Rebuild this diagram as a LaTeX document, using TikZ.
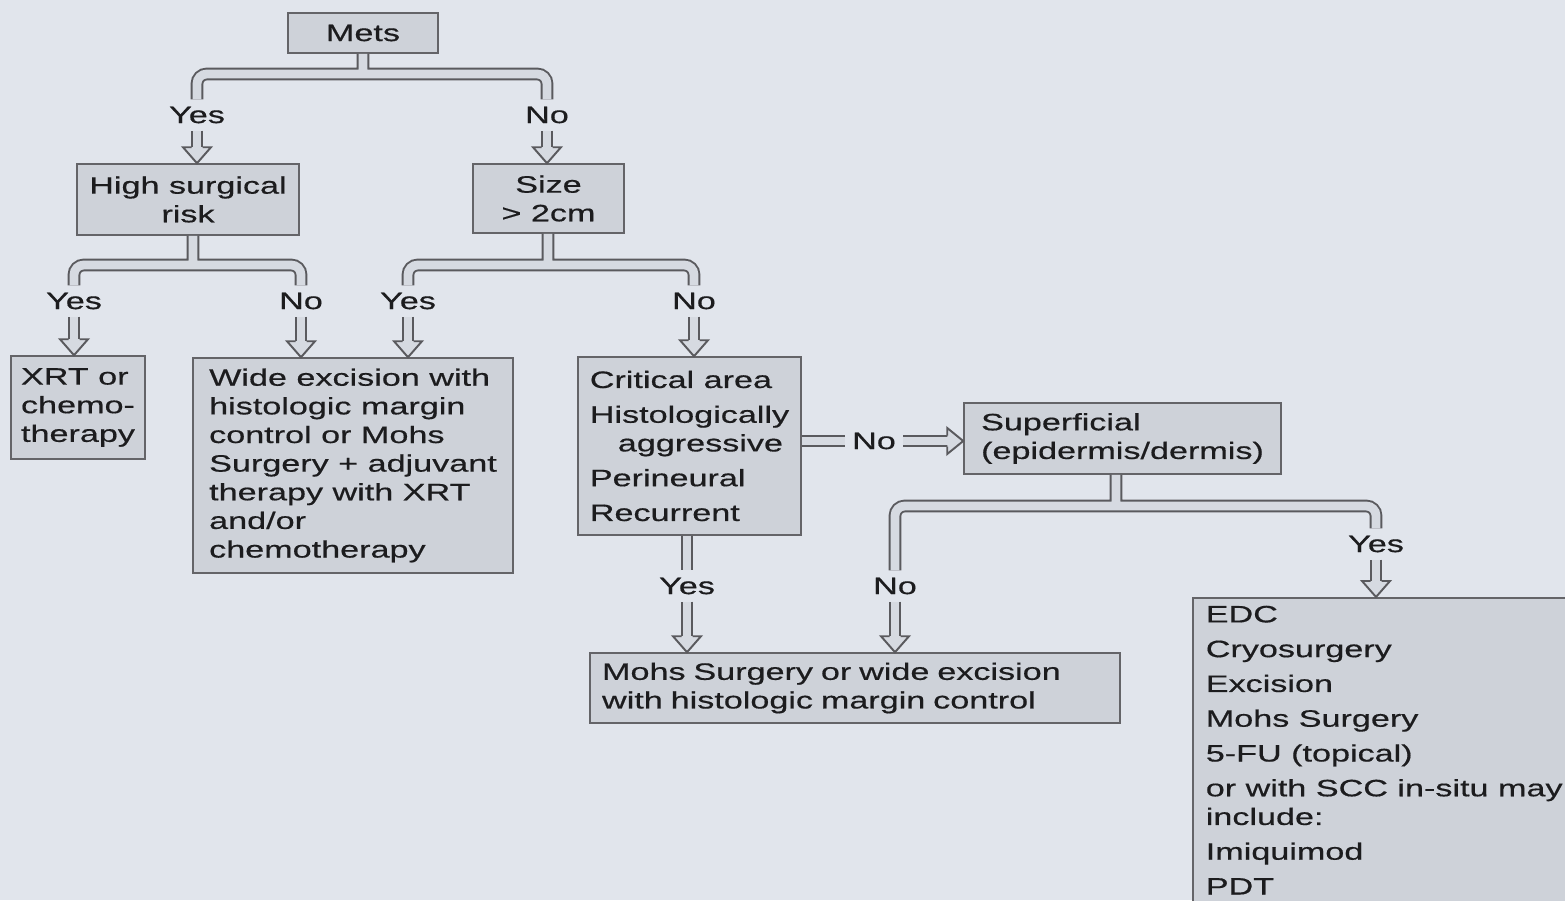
\documentclass[tikz,border=0pt]{standalone}
\usepackage{fontspec}
\setmainfont{Liberation Sans}[FakeStretch=1.44, FakeBold=0.5]
\usepackage{tikz}
\definecolor{bgcol}{RGB}{225,229,236}
\definecolor{boxfill}{RGB}{206,210,217}
\definecolor{boxedge}{RGB}{100,100,104}
\definecolor{tubefill}{RGB}{214,218,225}
\definecolor{tubeedge}{RGB}{90,90,94}
\definecolor{inkcol}{RGB}{28,28,30}
\tikzset{
	%Define style for boxes
	box/.style={
		draw=boxedge, fill=boxfill,
		line width=0.9pt,
		align=left,
		inner sep=0pt},
	%Define style for the Yes/No labels
	answer/.style={inner sep=4pt},
	% Define hollow connector style
	tube/.style={
		draw=tubeedge, line width=1.1pt,
		double=tubefill, double distance=5pt,
		rounded corners=5.5pt},
	tubeend/.style={tube, shorten >=8.5pt},
	% hollow arrow tips
	tip/.style={draw=tubeedge, fill=tubefill, line width=1.1pt},
	downtip/.pic={\filldraw[tip] (-5.5,-16) -- (-14,-16) -- (0,0) -- (14,-16) -- (5.5,-16);},
	righttip/.pic={\filldraw[tip] (-16,-5.5) -- (-16,-13) -- (0,0) -- (-16,13) -- (-16,5.5);}
}
\begin{document}
\begin{tikzpicture}[x=0.02cm, y=-0.02cm,
	every node/.style={text=inkcol, font=\fontsize{13.5}{16.3}\selectfont}]
		\useasboundingbox (0,0) rectangle (1565,900);
		\clip (0,0) rectangle (1565,900);
		\fill[bgcol] (0,0) rectangle (1565,900);
		%boxes
		\node[box, minimum width=3cm, minimum height=0.8cm] (mets) at (363,33) {Mets};
		\node[box, minimum width=4.44cm, minimum height=1.42cm, align=center] (hsr) at (188,199.5) {High surgical\\risk};
		\node[box, minimum width=3.02cm, minimum height=1.38cm, align=center] (size) at (548.5,198.5) {Size\\> 2cm};
		\node[box, minimum width=2.68cm, minimum height=2.06cm] (xrt) at (78,407.5) {XRT or\\chemo-\\therapy};
		\node[box, minimum width=6.4cm, minimum height=4.3cm] (wide) at (353,465.5)
		{Wide excision with\\histologic margin\\control or Mohs\\Surgery + adjuvant\\therapy with XRT\\and/or\\chemotherapy};
		\node[box, minimum width=4.46cm, minimum height=3.56cm] (crit) at (689.5,446)
		{Critical area\\[3.5pt]Histologically\\\hspace*{0.56cm}aggressive\\[3.5pt]Perineural\\[3.5pt]Recurrent};
		\node[box, minimum width=6.34cm, minimum height=1.42cm] (sup) at (1122.5,438.5) {Superficial\\(epidermis/dermis)};
		\node[box, minimum height=1.4cm, text width=10.12cm, inner xsep=0.24cm] (mohs) at (855,688)
		{Mohs Surgery or wide excision\\with histologic margin control};
		\node[box, anchor=north west, inner xsep=0.26cm, inner ysep=0.16cm] (edc) at (1192,597)
		{EDC\\[3.5pt]Cryosurgery\\[3.5pt]Excision\\[3.5pt]Mohs Surgery\\[3.5pt]5-FU (topical)\\[3.5pt]or with SCC in-situ may\\include:\\[3.5pt]Imiquimod\\[3.5pt]PDT};
		%labels
		\node[answer] (y1) at (197,115) {Yes};
		\node[answer] (n1) at (547,115) {No};
		\node[answer] (y2) at (74,301) {Yes};
		\node[answer] (n2) at (301,301) {No};
		\node[answer] (y3) at (408,301) {Yes};
		\node[answer] (n3) at (694,301) {No};
		\node[answer] (n4) at (874,441) {No};
		\node[answer] (y4) at (687,586) {Yes};
		\node[answer] (n5) at (895,586) {No};
		\node[answer] (y5) at (1376,544) {Yes};
		% branching points
		\coordinate (j1) at (363,74);
		\coordinate (j2) at (193,265);
		\coordinate (j3) at (548,265);
		\coordinate (j4) at (1116,506);
		% Mets
		\draw[tube] (mets.south) -- (j1) (y1.north) |- (j1) -| (n1.north);
		\draw[tubeend] (y1.south) -- (y1.south |- hsr.north);
		\pic at (y1.south |- hsr.north) {downtip};
		\draw[tubeend] (n1.south) -- (n1.south |- size.north);
		\pic at (n1.south |- size.north) {downtip};
		% High surgical risk
		\draw[tube] (hsr.south -| j2) -- (j2) (y2.north) |- (j2) -| (n2.north);
		\draw[tubeend] (y2.south) -- (y2.south |- xrt.north);
		\pic at (y2.south |- xrt.north) {downtip};
		\draw[tubeend] (n2.south) -- (n2.south |- wide.north);
		\pic at (n2.south |- wide.north) {downtip};
		% Size
		\draw[tube] (size.south -| j3) -- (j3) (y3.north) |- (j3) -| (n3.north);
		\draw[tubeend] (y3.south) -- (y3.south |- wide.north);
		\pic at (y3.south |- wide.north) {downtip};
		\draw[tubeend] (n3.south) -- (n3.south |- crit.north);
		\pic at (n3.south |- crit.north) {downtip};
		% Critical area
		\draw[tube] (crit.east |- n4) -- (n4.west);
		\draw[tubeend] (n4.east) -- (n4.east -| sup.west);
		\pic at (n4.east -| sup.west) {righttip};
		\draw[tube] (crit.south -| y4) -- (y4.north);
		\draw[tubeend] (y4.south) -- (y4.south |- mohs.north);
		\pic at (y4.south |- mohs.north) {downtip};
		% Superficial
		\draw[tube] (sup.south -| j4) -- (j4) (n5.north) |- (j4) -| (y5.north);
		\draw[tubeend] (n5.south) -- (n5.south |- mohs.north);
		\pic at (n5.south |- mohs.north) {downtip};
		\draw[tubeend] (y5.south) -- (y5.south |- edc.north);
		\pic at (y5.south |- edc.north) {downtip};
\end{tikzpicture}
\end{document}
